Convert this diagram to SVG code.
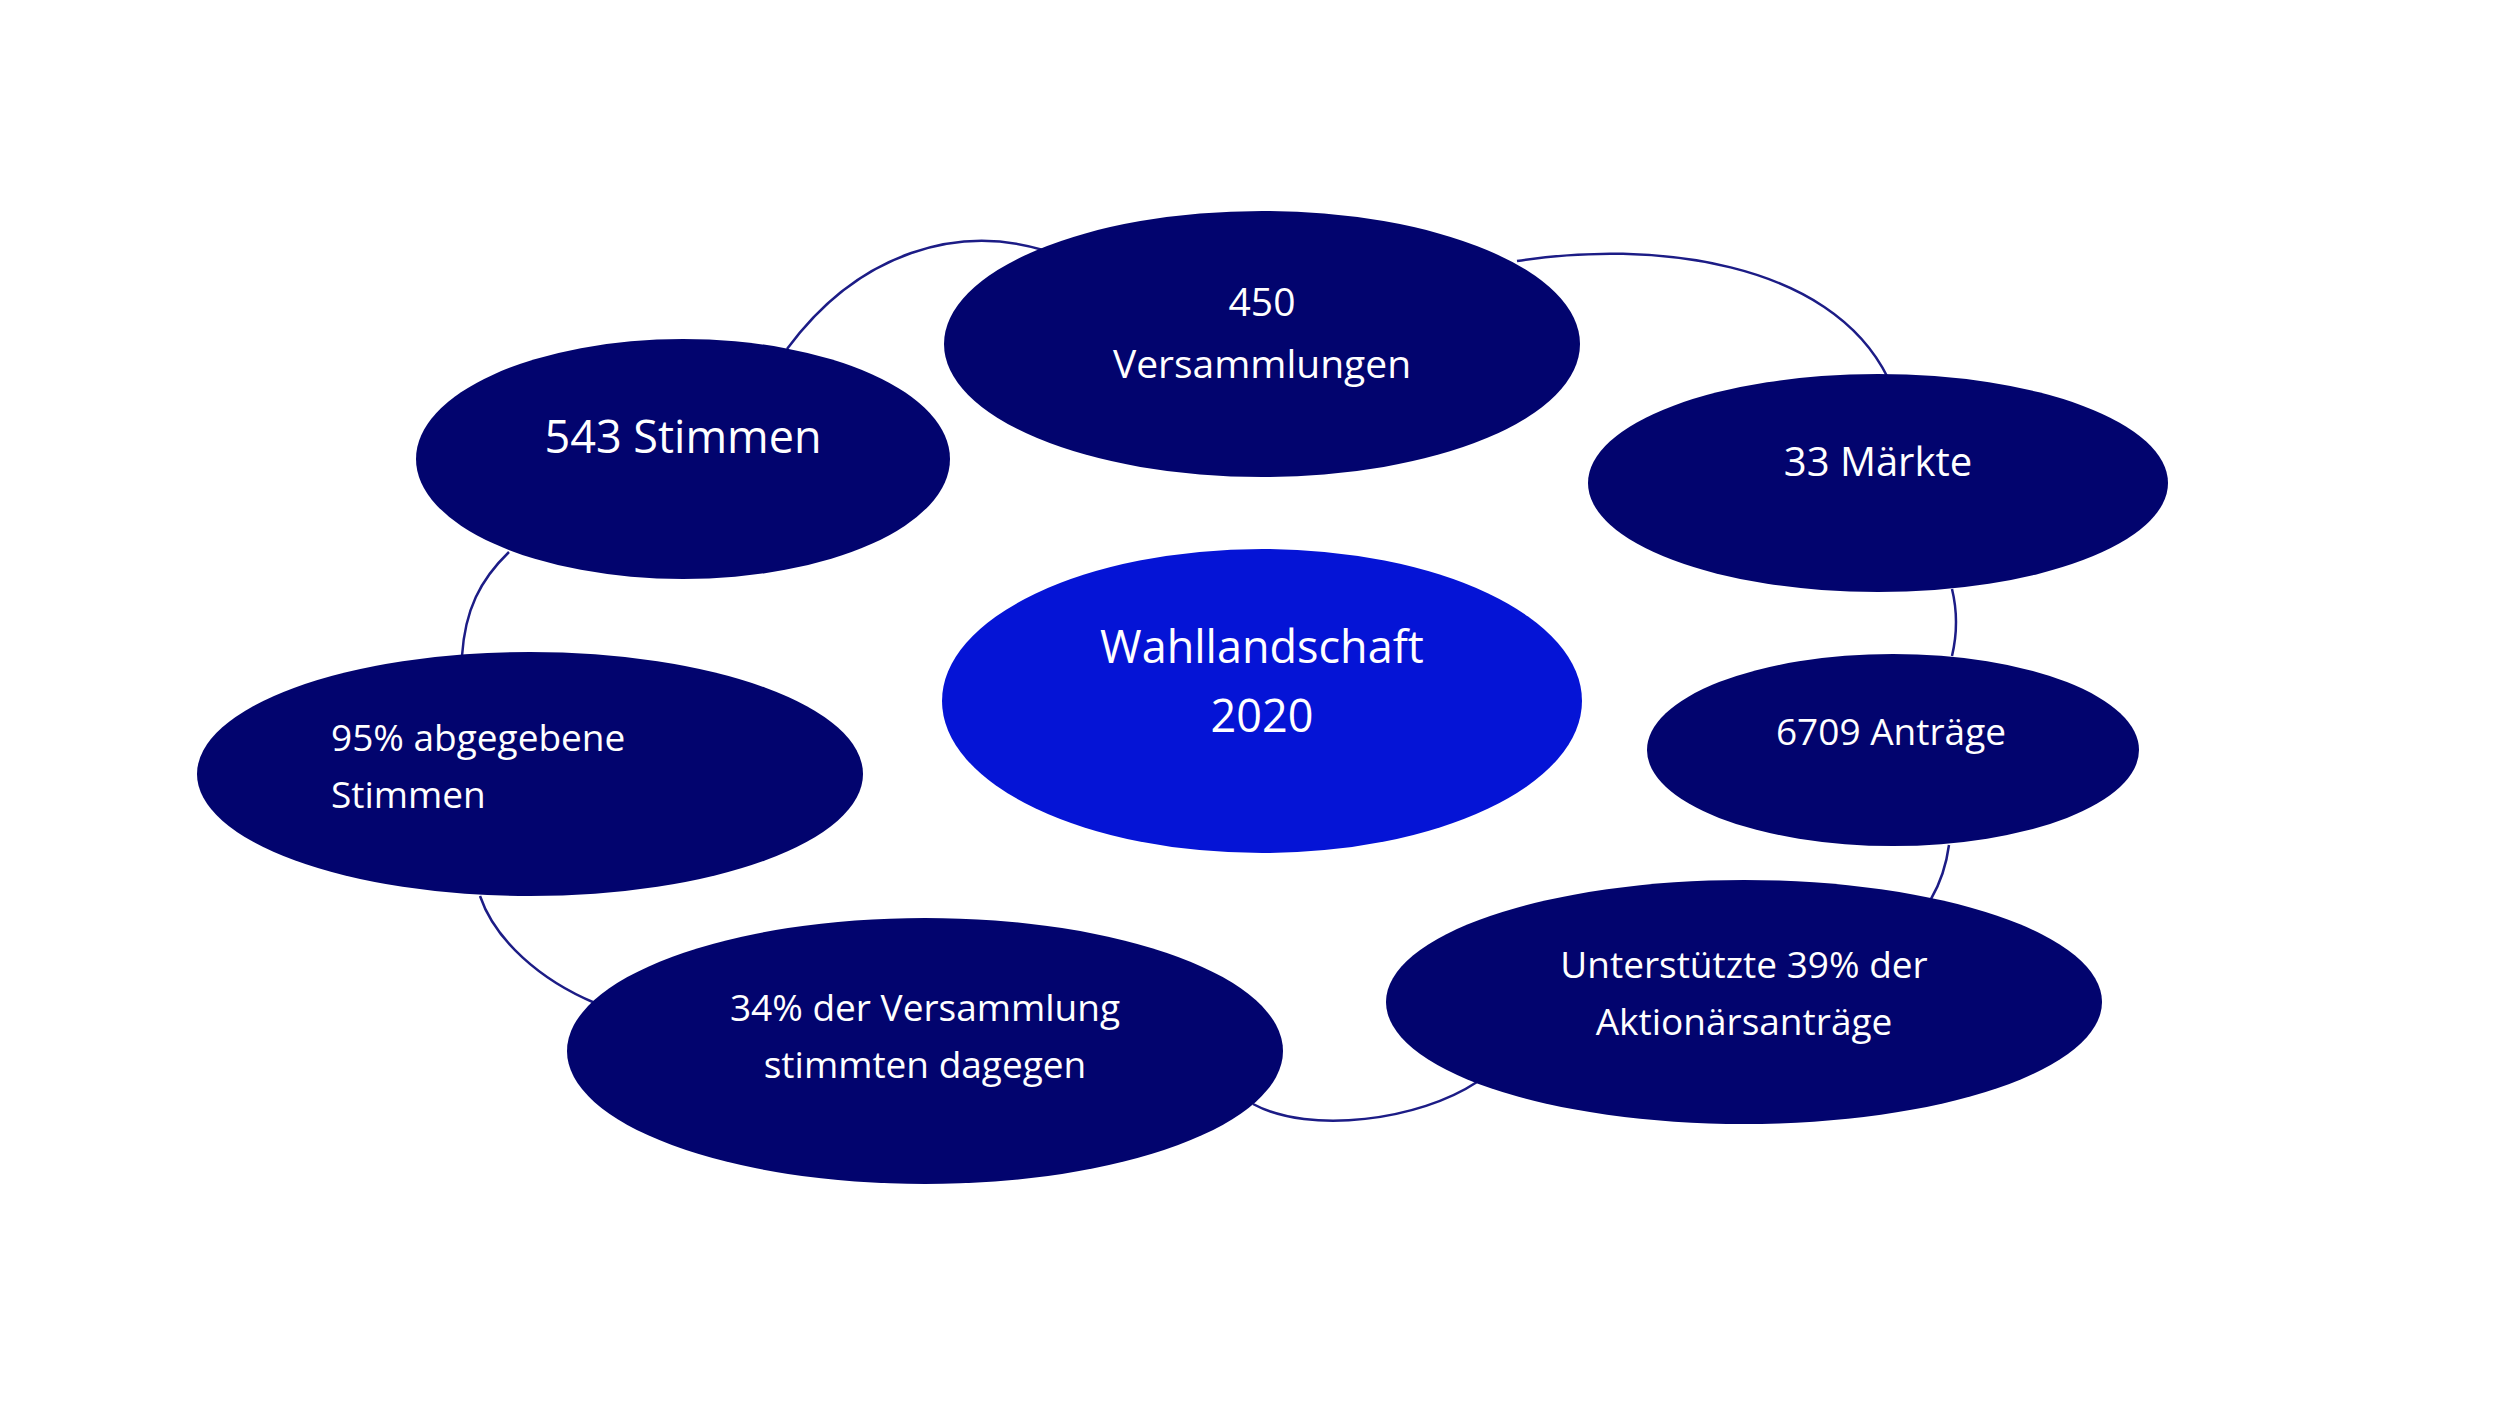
<svg xmlns="http://www.w3.org/2000/svg" width="2496" height="1404" viewBox="0 0 2496 1404">
<style>
.n{fill:#02046e}
.c{fill:#0514d6}
.t{fill:#fff;font-family:"Open Sans","Liberation Sans",sans-serif;text-anchor:middle}
.l{fill:none;stroke:#1c1c86;stroke-width:2.5}
</style>
<rect width="2496" height="1404" fill="#fff"/>
<g id="connectors">
<path class="l" d="M787,349 C860,250 960,225 1043,250"/>
<path class="l" d="M1517,261 C1650,240 1830,260 1888,378"/>
<path class="l" d="M1952,589 Q1960,622 1952,656"/>
<path class="l" d="M1949,845 Q1945,875 1931,899"/>
<path class="l" d="M1477,1082 C1420,1120 1310,1135 1253,1104"/>
<path class="l" d="M595,1003 C540,980 495,940 480,896"/>
<path class="l" d="M462,656 C465,610 480,580 509,552"/>
</g>
<g id="n450"><ellipse class="n" cx="1262" cy="344" rx="318" ry="133"/><text class="t" font-size="39" x="1262" y="316">450</text><text class="t" font-size="39" x="1262" y="378">Versammlungen</text></g>
<g id="n543"><ellipse class="n" cx="683" cy="459" rx="267" ry="120"/><text class="t" font-size="45" x="683" y="453">543 Stimmen</text></g>
<g id="n33"><ellipse class="n" cx="1878" cy="483" rx="290" ry="109"/><text class="t" font-size="40" x="1878" y="476">33 Märkte</text></g>
<g id="center"><ellipse class="c" cx="1262" cy="701" rx="320" ry="152"/><text class="t" font-size="45" x="1262" y="663">Wahllandschaft</text><text class="t" font-size="45" x="1262" y="732">2020</text></g>
<g id="n6709"><ellipse class="n" cx="1893" cy="750" rx="246" ry="96"/><text class="t" font-size="37" x="1891" y="745">6709 Anträge</text></g>
<g id="n95"><ellipse class="n" cx="530" cy="774" rx="333" ry="122"/><text class="t" font-size="37" x="331" y="751" style="text-anchor:start">95% abgegebene</text><text class="t" font-size="37" x="331" y="808" style="text-anchor:start">Stimmen</text></g>
<g id="n34"><ellipse class="n" cx="925" cy="1051" rx="358" ry="133"/><text class="t" font-size="37" x="925" y="1021">34% der Versammlung</text><text class="t" font-size="37" x="925" y="1078">stimmten dagegen</text></g>
<g id="n39"><ellipse class="n" cx="1744" cy="1002" rx="358" ry="122"/><text class="t" font-size="37" x="1744" y="978">Unterstützte 39% der</text><text class="t" font-size="37" x="1744" y="1035">Aktionärsanträge</text></g>
</svg>
